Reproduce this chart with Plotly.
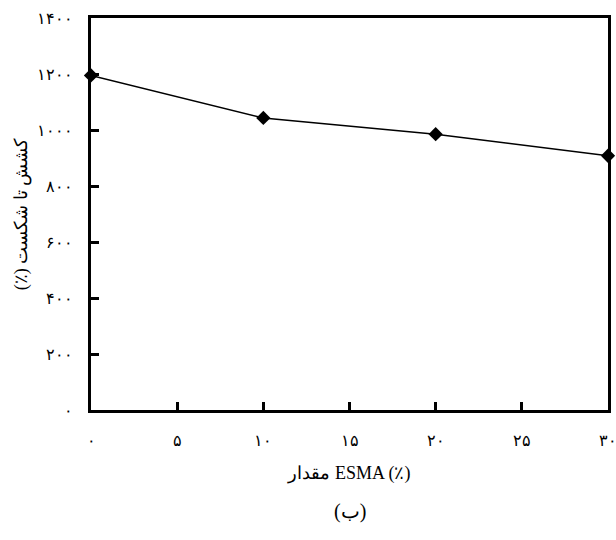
import plotly.graph_objects as go

esma = [0, 10, 20, 30]
elong = [1195, 1043, 985, 908]

x_ticks = [0, 5, 10, 15, 20, 25, 30]
x_labels = ["۰", "۵", "۱۰", "۱۵", "۲۰", "۲۵", "۳۰"]
y_ticks = [0, 200, 400, 600, 800, 1000, 1200, 1400]
y_labels = ["۰", "۲۰۰", "۴۰۰", "۶۰۰", "۸۰۰", "۱۰۰۰", "۱۲۰۰", "۱۴۰۰"]

RLM = "\u200f"
x_title = RLM + "مقدار ESMA (٪)" + RLM
y_title = RLM + "کشش تا شکست (٪)" + RLM
caption = RLM + "(ب)" + RLM

font_family = "Liberation Serif, DejaVu Serif, serif"

fig = go.Figure()
fig.add_trace(go.Scatter(
    x=esma, y=elong, mode="lines+markers",
    line=dict(color="black", width=1.5),
    marker=dict(symbol="diamond", size=11, color="black"),
    cliponaxis=False, showlegend=False,
))

fig.update_layout(
    width=616, height=540,
    margin=dict(l=91, r=8, t=18, b=130),
    paper_bgcolor="white", plot_bgcolor="white",
    font=dict(family=font_family, color="black", size=16),
    xaxis=dict(
        range=[0, 30], tickvals=x_ticks, ticktext=x_labels,
        ticks="inside", ticklen=8, tickwidth=2.5, tickcolor="black",
        showline=True, linewidth=2.5, linecolor="black", mirror=True,
        showgrid=False, zeroline=False, ticklabelstandoff=14,
        ticklabeloverflow="allow", automargin=False,
        title=dict(text=x_title, font=dict(size=18), standoff=19),
    ),
    yaxis=dict(
        range=[0, 1400], tickvals=y_ticks, ticktext=y_labels,
        ticks="inside", ticklen=8, tickwidth=2.5, tickcolor="black",
        showline=True, linewidth=2.5, linecolor="black", mirror=True,
        showgrid=False, zeroline=False, ticklabelstandoff=12,
        ticklabeloverflow="allow", automargin=False,
        title=dict(text=y_title, font=dict(size=18), standoff=5),
    ),
    annotations=[dict(
        text=caption, xref="paper", yref="paper", x=0.5, y=0,
        yshift=-88, yanchor="top", showarrow=False, font=dict(size=20),
    )],
)

fig.write_html("out.html")
